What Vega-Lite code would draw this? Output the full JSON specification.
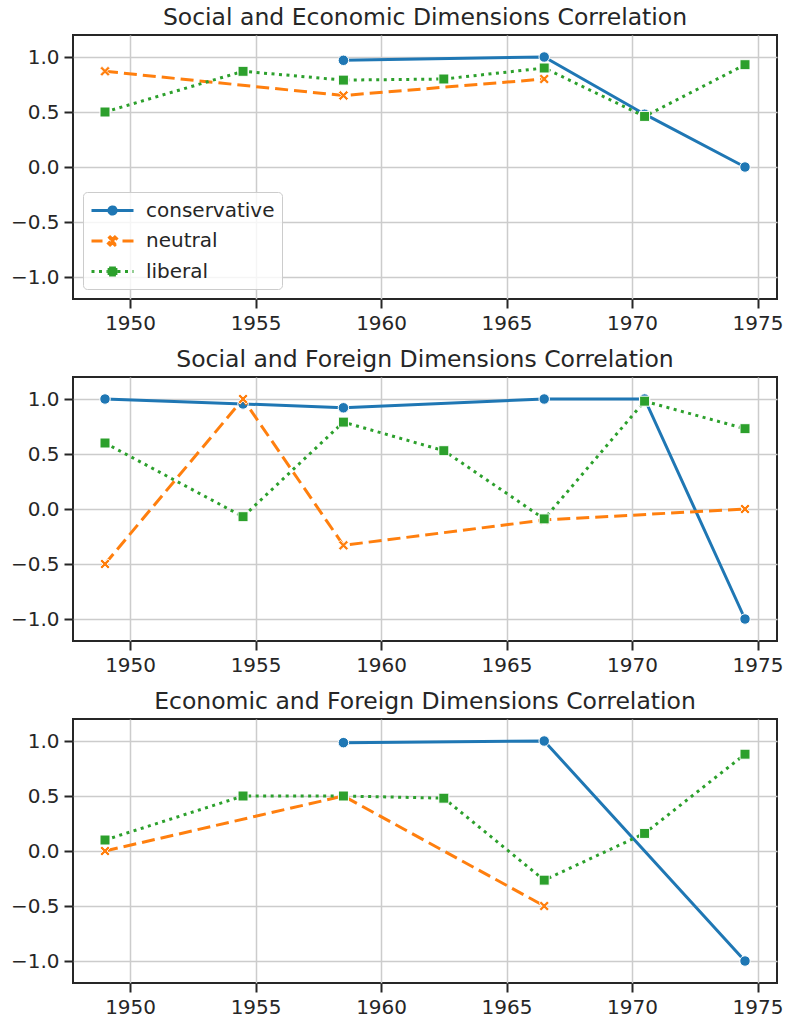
{
  "$schema": "https://vega.github.io/schema/vega-lite/v6.json",
  "background": "white",
  "padding": {"top": 4, "left": 9, "right": 8, "bottom": 8},
  "spacing": 78,
  "bounds": "flush",
  "data": {
    "values": [
      {"panel": "se", "group": "conservative", "year": 1958.5, "r": 0.97},
      {"panel": "se", "group": "conservative", "year": 1966.5, "r": 1.0},
      {"panel": "se", "group": "conservative", "year": 1970.5, "r": 0.48},
      {"panel": "se", "group": "conservative", "year": 1974.5, "r": 0.0},
      {"panel": "se", "group": "neutral", "year": 1949, "r": 0.87},
      {"panel": "se", "group": "neutral", "year": 1958.5, "r": 0.65},
      {"panel": "se", "group": "neutral", "year": 1966.5, "r": 0.8},
      {"panel": "se", "group": "liberal", "year": 1949, "r": 0.5},
      {"panel": "se", "group": "liberal", "year": 1954.5, "r": 0.87},
      {"panel": "se", "group": "liberal", "year": 1958.5, "r": 0.79},
      {"panel": "se", "group": "liberal", "year": 1962.5, "r": 0.8},
      {"panel": "se", "group": "liberal", "year": 1966.5, "r": 0.9},
      {"panel": "se", "group": "liberal", "year": 1970.5, "r": 0.46},
      {"panel": "se", "group": "liberal", "year": 1974.5, "r": 0.93},
      {"panel": "sf", "group": "conservative", "year": 1949, "r": 1.0},
      {"panel": "sf", "group": "conservative", "year": 1954.5, "r": 0.955},
      {"panel": "sf", "group": "conservative", "year": 1958.5, "r": 0.92},
      {"panel": "sf", "group": "conservative", "year": 1966.5, "r": 1.0},
      {"panel": "sf", "group": "conservative", "year": 1970.5, "r": 1.0},
      {"panel": "sf", "group": "conservative", "year": 1974.5, "r": -1.0},
      {"panel": "sf", "group": "neutral", "year": 1949, "r": -0.5},
      {"panel": "sf", "group": "neutral", "year": 1954.5, "r": 1.0},
      {"panel": "sf", "group": "neutral", "year": 1958.5, "r": -0.33},
      {"panel": "sf", "group": "neutral", "year": 1966.5, "r": -0.1},
      {"panel": "sf", "group": "neutral", "year": 1974.5, "r": 0.0},
      {"panel": "sf", "group": "liberal", "year": 1949, "r": 0.6},
      {"panel": "sf", "group": "liberal", "year": 1954.5, "r": -0.07},
      {"panel": "sf", "group": "liberal", "year": 1958.5, "r": 0.79},
      {"panel": "sf", "group": "liberal", "year": 1962.5, "r": 0.53},
      {"panel": "sf", "group": "liberal", "year": 1966.5, "r": -0.09},
      {"panel": "sf", "group": "liberal", "year": 1970.5, "r": 0.98},
      {"panel": "sf", "group": "liberal", "year": 1974.5, "r": 0.73},
      {"panel": "ef", "group": "conservative", "year": 1958.5, "r": 0.985},
      {"panel": "ef", "group": "conservative", "year": 1966.5, "r": 1.0},
      {"panel": "ef", "group": "conservative", "year": 1974.5, "r": -1.0},
      {"panel": "ef", "group": "neutral", "year": 1949, "r": 0.0},
      {"panel": "ef", "group": "neutral", "year": 1958.5, "r": 0.5},
      {"panel": "ef", "group": "neutral", "year": 1966.5, "r": -0.5},
      {"panel": "ef", "group": "liberal", "year": 1949, "r": 0.1},
      {"panel": "ef", "group": "liberal", "year": 1954.5, "r": 0.5},
      {"panel": "ef", "group": "liberal", "year": 1958.5, "r": 0.5},
      {"panel": "ef", "group": "liberal", "year": 1962.5, "r": 0.48},
      {"panel": "ef", "group": "liberal", "year": 1966.5, "r": -0.265},
      {"panel": "ef", "group": "liberal", "year": 1970.5, "r": 0.16},
      {"panel": "ef", "group": "liberal", "year": 1974.5, "r": 0.88}
    ]
  },
  "resolve": {
    "scale": {"color": "independent", "fill": "independent", "stroke": "independent", "strokeDash": "independent", "shape": "independent"},
    "legend": {"color": "independent", "fill": "independent", "stroke": "independent", "strokeDash": "independent", "shape": "independent"}
  },
  "config": {
    "font": "DejaVu Sans",
    "view": {"stroke": "#262626", "strokeWidth": 2},
    "axis": {
      "domain": false,
      "grid": true,
      "gridColor": "#cccccc",
      "gridWidth": 1.5,
      "tickColor": "#262626",
      "tickWidth": 2,
      "tickSize": 9,
      "labelFont": "DejaVu Sans",
      "labelFontSize": 20,
      "labelColor": "#262626",
      "labelPadding": 5,
      "labelFlush": false,
      "labelOverlap": false,
      "labelBound": false,
      "title": null
    },
    "legend": {
      "title": null,
      "orient": "bottom-left",
      "offset": 10,
      "padding": 7,
      "symbolSize": 400,
      "symbolStrokeWidth": 3,
      "symbolOpacity": 1,
      "labelFont": "DejaVu Sans",
      "labelFontSize": 20,
      "labelColor": "#262626",
      "labelOffset": 33,
      "rowPadding": 8.5,
      "fillColor": "rgba(255,255,255,0.8)",
      "strokeColor": "#cccccc",
      "cornerRadius": 4
    },
    "title": {
      "font": "DejaVu Sans",
      "fontSize": 23.5,
      "fontWeight": "normal",
      "color": "#262626",
      "anchor": "middle",
      "frame": "group",
      "baseline": "alphabetic",
      "offset": 6
    }
  },
  "vconcat": [
    {
      "title": "Social and Economic Dimensions Correlation",
      "width": 704,
      "height": 264,
      "transform": [{"filter": "datum.panel === 'se'"}],
      "encoding": {
        "x": {"field": "year", "type": "quantitative", "scale": {"domain": [1947.725, 1975.775], "nice": false, "zero": false}, "axis": {"values": [1950, 1955, 1960, 1965, 1970, 1975], "format": "d"}},
        "y": {"field": "r", "type": "quantitative", "scale": {"domain": [-1.2, 1.2], "nice": false}, "axis": {"values": [-1, -0.5, 0, 0.5, 1], "format": ".1f"}}
      },
      "layer": [
        {
          "mark": {"type": "point", "filled": true, "size": 400, "opacity": 0, "strokeWidth": 3},
          "encoding": {
            "fill": {"field": "group", "type": "nominal", "scale": {"domain": ["conservative", "neutral", "liberal"], "range": ["#1f77b4", "#ff7f0e", "#2ca02c"]}, "legend": {"symbolOpacity": 1}},
            "stroke": {"field": "group", "type": "nominal", "scale": {"domain": ["conservative", "neutral", "liberal"], "range": ["#1f77b4", "#ff7f0e", "#2ca02c"]}, "legend": {"symbolOpacity": 1}},
            "strokeDash": {"field": "group", "type": "nominal", "scale": {"domain": ["conservative", "neutral", "liberal"], "range": [[1, 0], [13, 6], [3, 4.5]]}, "legend": {"symbolOpacity": 1}},
            "shape": {"field": "group", "type": "nominal", "scale": {"domain": ["conservative", "neutral", "liberal"], "range": [
                "M-1,0H3.2M1.46,0A0.36,0.36 0 1 1 0.74,0A0.36,0.36 0 1 1 1.46,0Z",
                "M-1,0H0.1M2.1,0H3.2M0.7,-0.24L0.86,-0.4L1.1,-0.16L1.34,-0.4L1.5,-0.24L1.26,0L1.5,0.24L1.34,0.4L1.1,0.16L0.86,0.4L0.7,0.24L0.94,0Z",
                "M-1,0H0.6M1.6,0H3.2M0.76,-0.34H1.44V0.34H0.76ZM0.76,-0.34H0.99M0.99,-0.34H1.22M1.22,-0.34H1.44M0.76,0.34H0.99M0.99,0.34H1.22M1.22,0.34H1.44M0.76,-0.34V-0.11M0.76,-0.11V0.11M0.76,0.11V0.34M1.44,-0.34V-0.11M1.44,-0.11V0.11M1.44,0.11V0.34"
              ]}, "legend": {"symbolOpacity": 1}}
          }
        },
        {"transform": [{"filter": "datum.group === 'conservative'"}], "mark": {"type": "line", "strokeWidth": 3}, "encoding": {"color": {"field": "group", "type": "nominal", "scale": {"domain": ["conservative", "neutral", "liberal"], "range": ["#1f77b4", "#ff7f0e", "#2ca02c"]}, "legend": null}}},
        {"transform": [{"filter": "datum.group === 'conservative'"}], "mark": {"type": "point", "shape": "circle", "filled": true, "size": 110, "opacity": 1, "stroke": "white", "strokeWidth": 1}, "encoding": {"color": {"field": "group", "type": "nominal", "scale": {"domain": ["conservative", "neutral", "liberal"], "range": ["#1f77b4", "#ff7f0e", "#2ca02c"]}, "legend": null}}},
        {"transform": [{"filter": "datum.group === 'neutral'"}], "mark": {"type": "line", "strokeWidth": 3, "strokeDash": [13, 6]}, "encoding": {"color": {"field": "group", "type": "nominal", "scale": {"domain": ["conservative", "neutral", "liberal"], "range": ["#1f77b4", "#ff7f0e", "#2ca02c"]}, "legend": null}}},
        {"transform": [{"filter": "datum.group === 'neutral'"}], "mark": {"type": "point", "shape": "M-1,-0.6L-0.6,-1L0,-0.4L0.6,-1L1,-0.6L0.4,0L1,0.6L0.6,1L0,0.4L-0.6,1L-1,0.6L-0.4,0Z", "filled": true, "size": 100, "opacity": 1, "stroke": "white", "strokeWidth": 0.8}, "encoding": {"color": {"field": "group", "type": "nominal", "scale": {"domain": ["conservative", "neutral", "liberal"], "range": ["#1f77b4", "#ff7f0e", "#2ca02c"]}, "legend": null}}},
        {"transform": [{"filter": "datum.group === 'liberal'"}], "mark": {"type": "line", "strokeWidth": 3, "strokeDash": [3, 4.5]}, "encoding": {"color": {"field": "group", "type": "nominal", "scale": {"domain": ["conservative", "neutral", "liberal"], "range": ["#1f77b4", "#ff7f0e", "#2ca02c"]}, "legend": null}}},
        {"transform": [{"filter": "datum.group === 'liberal'"}], "mark": {"type": "point", "shape": "square", "filled": true, "size": 100, "opacity": 1, "stroke": "white", "strokeWidth": 1}, "encoding": {"color": {"field": "group", "type": "nominal", "scale": {"domain": ["conservative", "neutral", "liberal"], "range": ["#1f77b4", "#ff7f0e", "#2ca02c"]}, "legend": null}}}
      ]
    },
    {
      "title": "Social and Foreign Dimensions Correlation",
      "width": 704,
      "height": 264,
      "transform": [{"filter": "datum.panel === 'sf'"}],
      "encoding": {
        "x": {"field": "year", "type": "quantitative", "scale": {"domain": [1947.725, 1975.775], "nice": false, "zero": false}, "axis": {"values": [1950, 1955, 1960, 1965, 1970, 1975], "format": "d"}},
        "y": {"field": "r", "type": "quantitative", "scale": {"domain": [-1.2, 1.2], "nice": false}, "axis": {"values": [-1, -0.5, 0, 0.5, 1], "format": ".1f"}}
      },
      "layer": [
        {"transform": [{"filter": "datum.group === 'conservative'"}], "mark": {"type": "line", "strokeWidth": 3}, "encoding": {"color": {"field": "group", "type": "nominal", "scale": {"domain": ["conservative", "neutral", "liberal"], "range": ["#1f77b4", "#ff7f0e", "#2ca02c"]}, "legend": null}}},
        {"transform": [{"filter": "datum.group === 'conservative'"}], "mark": {"type": "point", "shape": "circle", "filled": true, "size": 110, "opacity": 1, "stroke": "white", "strokeWidth": 1}, "encoding": {"color": {"field": "group", "type": "nominal", "scale": {"domain": ["conservative", "neutral", "liberal"], "range": ["#1f77b4", "#ff7f0e", "#2ca02c"]}, "legend": null}}},
        {"transform": [{"filter": "datum.group === 'neutral'"}], "mark": {"type": "line", "strokeWidth": 3, "strokeDash": [13, 6]}, "encoding": {"color": {"field": "group", "type": "nominal", "scale": {"domain": ["conservative", "neutral", "liberal"], "range": ["#1f77b4", "#ff7f0e", "#2ca02c"]}, "legend": null}}},
        {"transform": [{"filter": "datum.group === 'neutral'"}], "mark": {"type": "point", "shape": "M-1,-0.6L-0.6,-1L0,-0.4L0.6,-1L1,-0.6L0.4,0L1,0.6L0.6,1L0,0.4L-0.6,1L-1,0.6L-0.4,0Z", "filled": true, "size": 100, "opacity": 1, "stroke": "white", "strokeWidth": 0.8}, "encoding": {"color": {"field": "group", "type": "nominal", "scale": {"domain": ["conservative", "neutral", "liberal"], "range": ["#1f77b4", "#ff7f0e", "#2ca02c"]}, "legend": null}}},
        {"transform": [{"filter": "datum.group === 'liberal'"}], "mark": {"type": "line", "strokeWidth": 3, "strokeDash": [3, 4.5]}, "encoding": {"color": {"field": "group", "type": "nominal", "scale": {"domain": ["conservative", "neutral", "liberal"], "range": ["#1f77b4", "#ff7f0e", "#2ca02c"]}, "legend": null}}},
        {"transform": [{"filter": "datum.group === 'liberal'"}], "mark": {"type": "point", "shape": "square", "filled": true, "size": 100, "opacity": 1, "stroke": "white", "strokeWidth": 1}, "encoding": {"color": {"field": "group", "type": "nominal", "scale": {"domain": ["conservative", "neutral", "liberal"], "range": ["#1f77b4", "#ff7f0e", "#2ca02c"]}, "legend": null}}}
      ]
    },
    {
      "title": "Economic and Foreign Dimensions Correlation",
      "width": 704,
      "height": 264,
      "transform": [{"filter": "datum.panel === 'ef'"}],
      "encoding": {
        "x": {"field": "year", "type": "quantitative", "scale": {"domain": [1947.725, 1975.775], "nice": false, "zero": false}, "axis": {"values": [1950, 1955, 1960, 1965, 1970, 1975], "format": "d"}},
        "y": {"field": "r", "type": "quantitative", "scale": {"domain": [-1.2, 1.2], "nice": false}, "axis": {"values": [-1, -0.5, 0, 0.5, 1], "format": ".1f"}}
      },
      "layer": [
        {"transform": [{"filter": "datum.group === 'conservative'"}], "mark": {"type": "line", "strokeWidth": 3}, "encoding": {"color": {"field": "group", "type": "nominal", "scale": {"domain": ["conservative", "neutral", "liberal"], "range": ["#1f77b4", "#ff7f0e", "#2ca02c"]}, "legend": null}}},
        {"transform": [{"filter": "datum.group === 'conservative'"}], "mark": {"type": "point", "shape": "circle", "filled": true, "size": 110, "opacity": 1, "stroke": "white", "strokeWidth": 1}, "encoding": {"color": {"field": "group", "type": "nominal", "scale": {"domain": ["conservative", "neutral", "liberal"], "range": ["#1f77b4", "#ff7f0e", "#2ca02c"]}, "legend": null}}},
        {"transform": [{"filter": "datum.group === 'neutral'"}], "mark": {"type": "line", "strokeWidth": 3, "strokeDash": [13, 6]}, "encoding": {"color": {"field": "group", "type": "nominal", "scale": {"domain": ["conservative", "neutral", "liberal"], "range": ["#1f77b4", "#ff7f0e", "#2ca02c"]}, "legend": null}}},
        {"transform": [{"filter": "datum.group === 'neutral'"}], "mark": {"type": "point", "shape": "M-1,-0.6L-0.6,-1L0,-0.4L0.6,-1L1,-0.6L0.4,0L1,0.6L0.6,1L0,0.4L-0.6,1L-1,0.6L-0.4,0Z", "filled": true, "size": 100, "opacity": 1, "stroke": "white", "strokeWidth": 0.8}, "encoding": {"color": {"field": "group", "type": "nominal", "scale": {"domain": ["conservative", "neutral", "liberal"], "range": ["#1f77b4", "#ff7f0e", "#2ca02c"]}, "legend": null}}},
        {"transform": [{"filter": "datum.group === 'liberal'"}], "mark": {"type": "line", "strokeWidth": 3, "strokeDash": [3, 4.5]}, "encoding": {"color": {"field": "group", "type": "nominal", "scale": {"domain": ["conservative", "neutral", "liberal"], "range": ["#1f77b4", "#ff7f0e", "#2ca02c"]}, "legend": null}}},
        {"transform": [{"filter": "datum.group === 'liberal'"}], "mark": {"type": "point", "shape": "square", "filled": true, "size": 100, "opacity": 1, "stroke": "white", "strokeWidth": 1}, "encoding": {"color": {"field": "group", "type": "nominal", "scale": {"domain": ["conservative", "neutral", "liberal"], "range": ["#1f77b4", "#ff7f0e", "#2ca02c"]}, "legend": null}}}
      ]
    }
  ]
}
